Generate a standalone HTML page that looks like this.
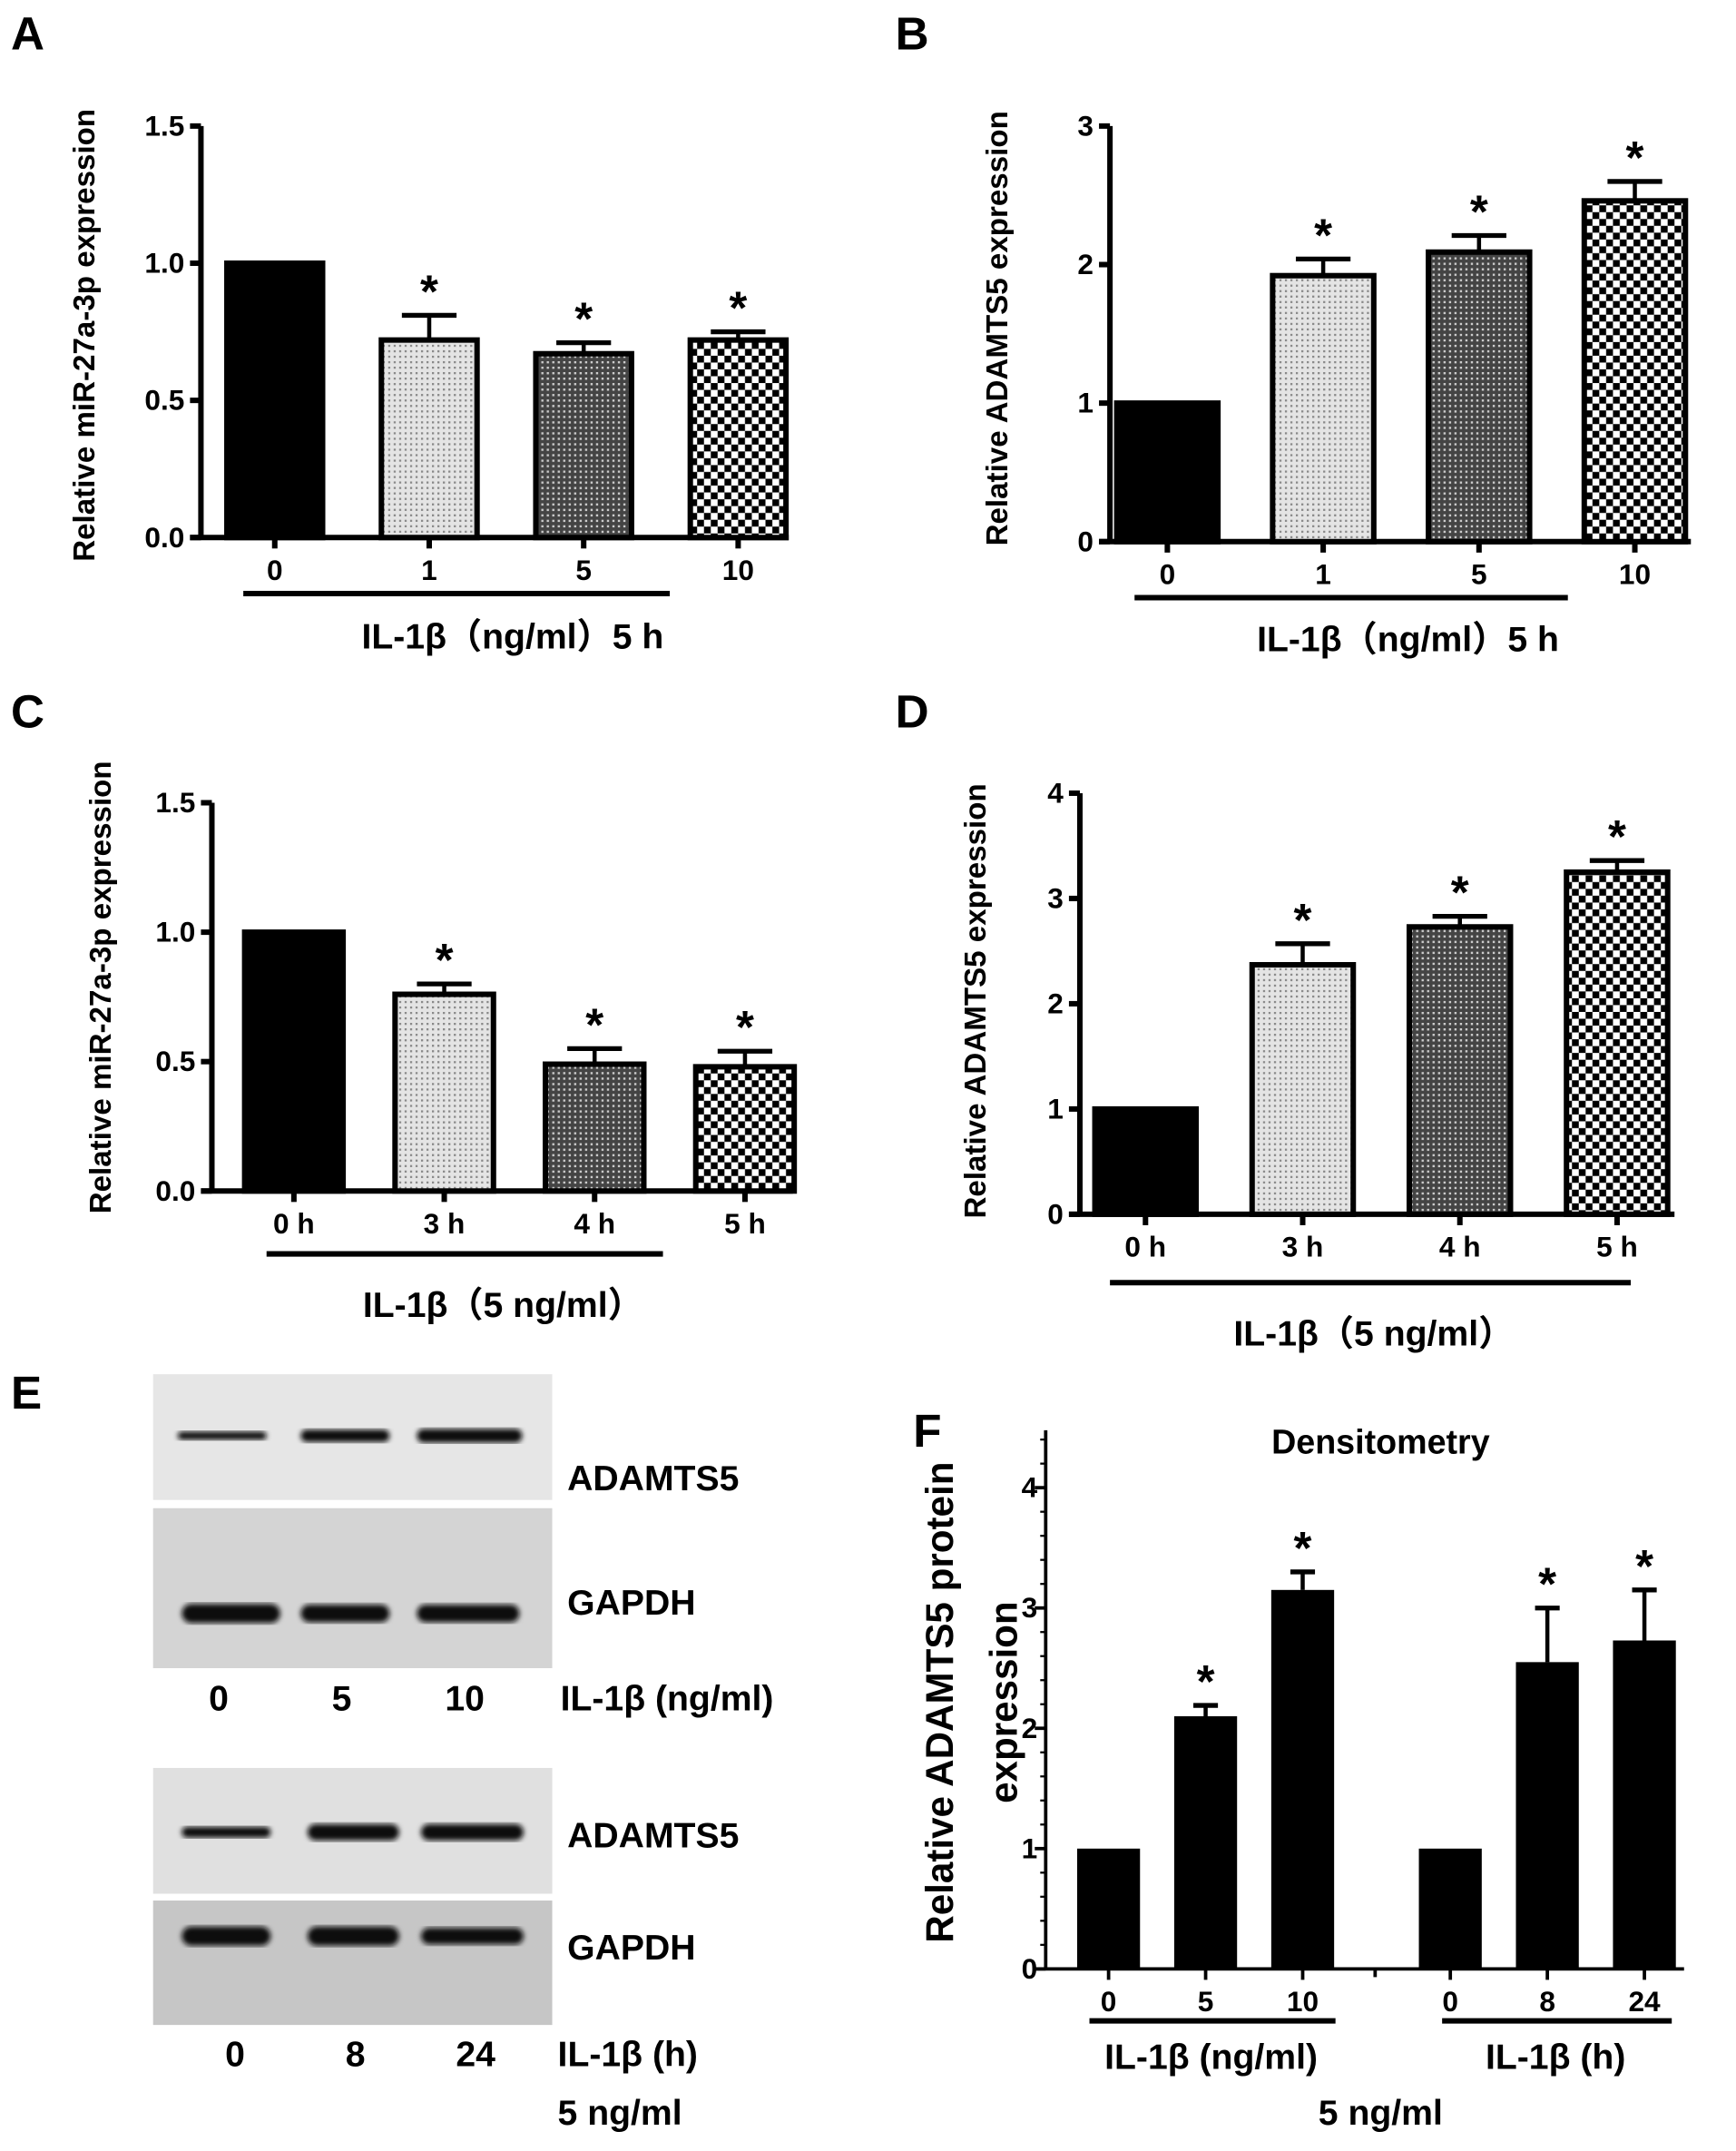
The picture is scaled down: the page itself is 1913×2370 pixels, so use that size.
<!DOCTYPE html>
<html><head><meta charset="utf-8"><style>
html,body{margin:0;padding:0;background:#fff;}
svg{display:block;font-family:"Liberation Sans",sans-serif;}
</style></head><body>
<svg id="fig" width="1913" height="2370" viewBox="0 0 1270 1573" xmlns="http://www.w3.org/2000/svg">
<defs>
<pattern id="pLight" width="4" height="4" patternUnits="userSpaceOnUse"><rect width="4" height="4" fill="#e4e4e4"/><rect width="1.5" height="1.5" fill="#888"/></pattern>
<pattern id="pDark" width="4" height="4" patternUnits="userSpaceOnUse"><rect width="4" height="4" fill="#444"/><rect width="1.6" height="1.6" fill="#ccc"/></pattern>
<pattern id="pCheck" width="10" height="10" patternUnits="userSpaceOnUse"><rect width="10" height="10" fill="#fff"/><rect width="5" height="5" fill="#000"/><rect x="5" y="5" width="5" height="5" fill="#000"/></pattern>
<filter id="blur"><feGaussianBlur stdDeviation="2"/></filter>
</defs>
<g id="root"></g>
</svg>
<script>
// ---- Panel A data ----
const aCategories = ["0","1","5","10"];
const aValues = [1.0, 0.72, 0.67, 0.72];
const aErrors = [0, 0.09, 0.04, 0.03];
const aStars = [false, true, true, true];
const aTicks = ["0.0","0.5","1.0","1.5"];
// ---- Panel B data ----
const bCategories = ["0","1","5","10"];
const bValues = [1.0, 1.92, 2.09, 2.46];
const bErrors = [0, 0.12, 0.12, 0.14];
const bStars = [false, true, true, true];
const bTicks = ["0","1","2","3"];
// ---- Panel C data ----
const cCategories = ["0  h","3  h","4  h","5  h"];
const cValues = [1.0, 0.76, 0.49, 0.48];
const cErrors = [0, 0.04, 0.06, 0.06];
const cStars = [false, true, true, true];
const cTicks = ["0.0","0.5","1.0","1.5"];
// ---- Panel D data ----
const dCategories = ["0  h","3  h","4  h","5  h"];
const dValues = [1.0, 2.37, 2.73, 3.25];
const dErrors = [0, 0.2, 0.1, 0.11];
const dStars = [false, true, true, true];
const dTicks = ["0","1","2","3","4"];
// ---- Panel F data ----
const fCategories = ["0","5","10","0","8","24"];
const fValues = [1.0, 2.1, 3.15, 1.0, 2.55, 2.73];
const fErrors = [0, 0.09, 0.15, 0, 0.45, 0.42];
const fStars = [false, true, true, false, true, true];
const fTicks = ["0","1","2","3","4"];

const NS = "http://www.w3.org/2000/svg";
const root = document.getElementById("root");
function mk(tag, attrs, parent, text){
  const e = document.createElementNS(NS, tag);
  for (const k in attrs) e.setAttribute(k, attrs[k]);
  if (text !== undefined) e.textContent = text;
  (parent || root).appendChild(e);
  return e;
}
const fills = ["#000","url(#pLight)","url(#pDark)","url(#pCheck)"];

function barChart(o){
  const g = mk("g", {});
  
  
  const ymax = o.ymax;
  const Y = v => o.y0 - (v / ymax) * (o.y0 - o.yTop);
  const X = i => o.x0 + o.left + i * o.step;
  const ya = mk("line", {x1:o.x0, y1:o.yTop - o.over, x2:o.x0, y2:o.y0, stroke:"#000", "stroke-width":o.sw}, g);
  
  
  const xa = mk("line", {x1:o.x0 - 8, y1:o.y0, x2:o.xEnd, y2:o.y0, stroke:"#000", "stroke-width":o.sw}, g);
  
  
  o.ticks.forEach((t, i) => {
    const v = ymax * i / (o.ticks.length - 1);
    mk("line", {x1:o.x0 - 8, y1:Y(v), x2:o.x0, y2:Y(v), stroke:"#000", "stroke-width":o.sw}, g);
    const tl = mk("text", {x:o.x0 - (o.tickGap || 12), y:Y(v) + 7, "text-anchor":"end", "font-size":o.fs, "font-weight":"bold"}, g, t);
    
    
    if (o.minor && i < o.ticks.length - 1) {
      for (let m = 1; m < 5; m++) {
        const mv = v + ymax / (o.ticks.length - 1) * m / 5;
        mk("line", {x1:o.x0 - 4, y1:Y(mv), x2:o.x0, y2:Y(mv), stroke:"#000", "stroke-width":1.5}, g);
      }
    }
  });
  if (o.minor) {
    for (let m = 1; m <= 4; m++) {
      const mv = ymax + ymax / (o.ticks.length - 1) * m / 5;
      if (Y(mv) > o.yTop - o.over) mk("line", {x1:o.x0 - 4, y1:Y(mv), x2:o.x0, y2:Y(mv), stroke:"#000", "stroke-width":1.5}, g);
    }
  }
  o.values.forEach((v, i) => {
    const cx = X(i) + (o.gapAfter !== undefined && i > o.gapAfter ? o.gap : 0);
    const fill = o.solid ? "#000" : fills[i];
    const b = mk("rect", {x:cx - o.bw/2, y:Y(v), width:o.bw, height:o.y0 - Y(v), fill:fill, stroke:"#000", "stroke-width":o.solid ? 0 : 4}, g);
    
    
    if (o.errors[i] > 0) {
      const ye = Y(v + o.errors[i]);
      mk("line", {x1:cx, y1:Y(v), x2:cx, y2:ye, stroke:"#000", "stroke-width":3}, g);
      mk("line", {x1:cx - o.cap, y1:ye, x2:cx + o.cap, y2:ye, stroke:"#000", "stroke-width":3.5}, g);
    }
    if (o.stars[i]) {
      const s = mk("text", {x:cx, y:Y(v + o.errors[i]) - 6, "text-anchor":"middle", "font-size":34, "font-weight":"bold"}, g, "*");
      
      
    }
    mk("line", {x1:cx, y1:o.y0, x2:cx, y2:o.y0 + 8, stroke:"#000", "stroke-width":o.sw}, g);
    const xl = mk("text", {x:cx, y:o.y0 + 31, "text-anchor":"middle", "font-size":o.fs, "font-weight":"bold", "xml:space":"preserve"}, g, o.cats[i]);
    
    
  });
  return {g, X, Y};
}

function text(x, y, s, size, name, opts){
  const t = mk("text", Object.assign({x:x, y:y, "font-size":size, "font-weight":"bold", "xml:space":"preserve"}, opts || {}), root, s);
  
  
  return t;
}
function vtext(x, y, s, size, name, weight){
  const t = mk("text", {x:0, y:0, transform:`translate(${x},${y}) rotate(-90)`, "text-anchor":"middle", "font-size":size, "font-weight":weight || "bold"}, root, s);
  
  
}
function hline(x1, x2, y, name){
  const l = mk("line", {x1, y1:y, x2, y2:y, stroke:"#000", "stroke-width":4});
  
  
}
const CJK = "Liberation Sans, Noto Sans CJK SC, sans-serif";

// Panel A
text(8, 36, "A", 34, "panel-label-a");
barChart({name:"chart-a", x0:147, y0:393, yTop:92, over:0, xEnd:577, left:54, step:113, bw:70, cap:20, ymax:1.5, values:aValues, errors:aErrors, stars:aStars, cats:aCategories, ticks:aTicks, fs:21, sw:4});
hline(178, 490, 434, "group-underline-a");
text(375, 474, "IL-1β（ng/ml）5 h", 26, "x-axis-title-a", {"text-anchor":"middle", "font-family":CJK});
vtext(69, 245, "Relative miR-27a-3p expression", 22, "y-axis-title-a");

// Panel B
text(655, 36, "B", 34, "panel-label-b");
barChart({name:"chart-b", x0:812, y0:396, yTop:92, over:0, xEnd:1237, left:42, step:114, bw:74, cap:20, ymax:3, values:bValues, errors:bErrors, stars:bStars, cats:bCategories, ticks:bTicks, fs:21, sw:4});
hline(830, 1147, 437, "group-underline-b");
text(1030, 476, "IL-1β（ng/ml）5 h", 26, "x-axis-title-b", {"text-anchor":"middle", "font-family":CJK});
vtext(737, 240, "Relative ADAMTS5 expression", 22, "y-axis-title-b");

// Panel C
text(8, 532, "C", 34, "panel-label-c");
barChart({name:"chart-c", x0:155, y0:871, yTop:587, over:0, xEnd:580, left:60, step:110, bw:72, cap:20, ymax:1.5, values:cValues, errors:cErrors, stars:cStars, cats:cCategories, ticks:cTicks, fs:21, sw:4});
hline(195, 485, 917, "group-underline-c");
text(368, 963, "IL-1β（5 ng/ml）", 26, "x-axis-title-c", {"text-anchor":"middle", "font-family":CJK});
vtext(81, 722, "Relative miR-27a-3p expression", 22, "y-axis-title-c");

// Panel D
text(655, 532, "D", 34, "panel-label-d");
barChart({name:"chart-d", x0:790, y0:888, yTop:580, over:0, xEnd:1225, left:48, step:115, bw:74, cap:20, ymax:4, values:dValues, errors:dErrors, stars:dStars, cats:dCategories, ticks:dTicks, fs:21, sw:4});
hline(812, 1193, 938, "group-underline-d");
text(1005, 984, "IL-1β（5 ng/ml）", 26, "x-axis-title-d", {"text-anchor":"middle", "font-family":CJK});
vtext(721, 732, "Relative ADAMTS5 expression", 22, "y-axis-title-d");

// Panel E - western blots
text(8, 1030, "E", 34, "panel-label-e");
const blotBoxes = [[1005,1097,"#e6e6e6"],[1103,1220,"#d4d4d4"],[1293,1385,"#e0e0e0"],[1390,1481,"#c6c6c6"]];
const bandRows = [
  {y:1050, h:[6,9,10], lanes:[[130,195],[220,285],[305,382]], name:"adamts5-bands-1"},
  {y:1180, h:[14,13,13], lanes:[[133,205],[220,285],[305,380]], name:"gapdh-bands-1"},
  {y:1340, h:[8,12,12], lanes:[[133,198],[225,292],[308,383]], name:"adamts5-bands-2"},
  {y:1416, h:[14,14,12], lanes:[[133,198],[225,292],[308,383]], name:"gapdh-bands-2"}
];
blotBoxes.forEach((b, i) => {
  const r = mk("rect", {x:112, y:b[0], width:292, height:b[1] - b[0], fill:b[2]});
  
  
});
bandRows.forEach(row => {
  row.lanes.forEach((l, i) => {
    const e = mk("rect", {x:l[0], y:row.y - row.h[i]/2, width:l[1] - l[0], height:row.h[i], rx:row.h[i]/2, fill:"#0a0a0a", filter:"url(#blur)"});
    
    
  });
});
text(415, 1090, "ADAMTS5", 26, "blot-label-adamts5-1");
text(415, 1181, "GAPDH", 26, "blot-label-gapdh-1");
text(160, 1251, "0", 26, "lane-label", {"text-anchor":"middle"});
text(250, 1251, "5", 26, "lane-label", {"text-anchor":"middle"});
text(340, 1251, "10", 26, "lane-label", {"text-anchor":"middle"});
text(410, 1251, "IL-1β (ng/ml)", 26, "lane-axis-label-1");
text(415, 1351, "ADAMTS5", 26, "blot-label-adamts5-2");
text(415, 1433, "GAPDH", 26, "blot-label-gapdh-2");
text(172, 1511, "0", 26, "lane-label", {"text-anchor":"middle"});
text(260, 1511, "8", 26, "lane-label", {"text-anchor":"middle"});
text(348, 1511, "24", 26, "lane-label", {"text-anchor":"middle"});
text(408, 1511, "IL-1β (h)", 26, "lane-axis-label-2");
text(408, 1554, "5 ng/ml", 26, "lane-conc-label");

// Panel F
text(668, 1058, "F", 34, "panel-label-f");
barChart({name:"chart-f", x0:765, y0:1440, yTop:1088, over:42, xEnd:1232, left:46, step:71, gapAfter:2, gap:37, bw:46, cap:9, ymax:4, values:fValues, errors:fErrors, stars:fStars, cats:fCategories, ticks:fTicks, fs:21, sw:2.5, solid:true, minor:true, tickGap:6});
mk("line", {x1:1006, y1:1440, x2:1006, y2:1446, stroke:"#000", "stroke-width":2.5});
text(1010, 1063, "Densitometry", 25, "chart-title-f", {"text-anchor":"middle"});
hline(797, 977, 1478, "group-underline-f1");
hline(1055, 1223, 1478, "group-underline-f2");
text(886, 1513, "IL-1β (ng/ml)", 26, "x-group-label-f1", {"text-anchor":"middle","font-weight":"bold"});
text(1138, 1513, "IL-1β (h)", 26, "x-group-label-f2", {"text-anchor":"middle","font-weight":"bold"});
text(1010, 1554, "5 ng/ml", 26, "x-conc-label-f", {"text-anchor":"middle","font-weight":"bold"});
vtext(697, 1245, "Relative ADAMTS5 protein", 28, "y-axis-title-f-line1");
vtext(744, 1245, "expression", 28, "y-axis-title-f-line2");
</script>
</body></html>
